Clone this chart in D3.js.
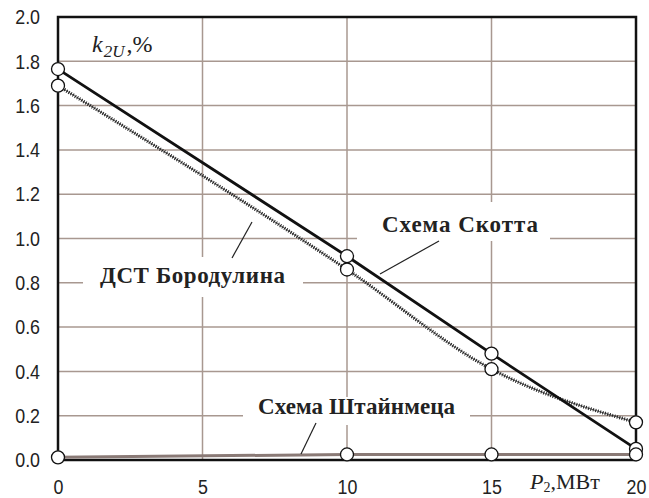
<!DOCTYPE html>
<html>
<head>
<meta charset="utf-8">
<script src="https://cdn.jsdelivr.net/npm/d3@7"></script>
<style>
  body { margin: 0; background: #fff; }
  .tick text { font-family: "Liberation Sans", Arial, sans-serif; font-size: 21px; fill: #222; }
  .lbl { font-family: "Liberation Serif", "DejaVu Serif", serif; font-weight: bold; font-size: 23px; fill: #222; }
</style>
</head>
<body>
<div id="chart"></div>
<script>
var powerMW = [0, 10, 15, 20];
var scottK = [1.765, 0.92, 0.48, 0.05];
var borodulinK = [1.69, 0.86, 0.41, 0.17];
var steinmetzK = [0.012, 0.025, 0.025, 0.025];
var xTicks = [0, 5, 10, 15, 20];
var yTicks = [0, 0.2, 0.4, 0.6, 0.8, 1.0, 1.2, 1.4, 1.6, 1.8, 2.0];

var svgWidth = 649, svgHeight = 498;
var margin = { top: 17, right: 13, bottom: 38, left: 58 };
var width = svgWidth - margin.left - margin.right;
var height = svgHeight - margin.top - margin.bottom;

var svg = d3.select("#chart").append("svg")
  .attr("width", svgWidth)
  .attr("height", svgHeight);

var g = svg.append("g")
  .attr("transform", `translate(${margin.left}, ${margin.top})`);

var x = d3.scaleLinear().domain([0, 20]).range([0, width]);
var y = d3.scaleLinear().domain([0, 2]).range([height, 0]);

// grid
g.append("g").selectAll("line").data(xTicks.slice(1, -1)).enter().append("line")
  .attr("x1", d => x(d)).attr("x2", d => x(d))
  .attr("y1", 0).attr("y2", height)
  .attr("stroke", "#a89890").attr("stroke-width", 1.5);
g.append("g").selectAll("line").data(yTicks.slice(1, -1)).enter().append("line")
  .attr("x1", 0).attr("x2", width)
  .attr("y1", d => y(d)).attr("y2", d => y(d))
  .attr("stroke", "#a89890").attr("stroke-width", 1.5);

// white boxes behind the labels
g.append("rect").attr("x", 25).attr("y", 240).attr("width", 220).attr("height", 40).attr("fill", "#fff");
g.append("rect").attr("x", 299).attr("y", 185).attr("width", 193).attr("height", 39).attr("fill", "#fff");
g.append("rect").attr("x", 185).attr("y", 380).attr("width", 227).attr("height", 28).attr("fill", "#fff");

// axes (narrowed digits like the original)
var sx = 0.85;
var xAxis = g.append("g")
  .attr("transform", `translate(0, ${height})`)
  .call(d3.axisBottom(x).tickValues(xTicks).tickSize(0).tickPadding(19).tickFormat(d3.format("d")));
xAxis.select(".domain").remove();
xAxis.selectAll(".tick text").attr("transform", `scale(${sx},1)`);

var yAxis = g.append("g")
  .call(d3.axisLeft(y).tickValues(yTicks).tickSize(0).tickPadding(18).tickFormat(d3.format(".1f")));
yAxis.select(".domain").remove();
yAxis.selectAll(".tick text")
  .attr("x", -18 / sx)
  .attr("transform", `scale(${sx},1)`);

// frame
g.append("rect").attr("x", 0).attr("y", 0).attr("width", width).attr("height", height)
  .attr("fill", "none").attr("stroke", "#111").attr("stroke-width", 2.5);

// data lines
var steinLine = d3.line().x((d, i) => x(powerMW[i])).y(d => y(d));
g.append("path").datum(steinmetzK)
  .attr("d", steinLine)
  .attr("fill", "none").attr("stroke", "#8a7a76").attr("stroke-width", 3);

var boroLine = d3.line().x((d, i) => x(powerMW[i])).y(d => y(d)).curve(d3.curveMonotoneX);
g.append("path").datum(borodulinK)
  .attr("d", boroLine)
  .attr("fill", "none").attr("stroke", "#555").attr("stroke-width", 1);
g.append("path").datum(borodulinK)
  .attr("d", boroLine)
  .attr("fill", "none").attr("stroke", "#222").attr("stroke-width", 3.5)
  .attr("stroke-dasharray", "1,1.5");

g.append("path").datum(scottK)
  .attr("d", d3.line().x((d, i) => x(powerMW[i])).y(d => y(d)))
  .attr("fill", "none").attr("stroke", "#111").attr("stroke-width", 2.8);

// markers
[scottK, borodulinK, steinmetzK].forEach(function(series) {
  g.append("g").selectAll("circle").data(series).enter().append("circle")
    .attr("cx", (d, i) => x(powerMW[i]))
    .attr("cy", d => y(d))
    .attr("r", 6.5)
    .attr("fill", "#fff").attr("stroke", "#111").attr("stroke-width", 1.3);
});

// leader lines
var leaders = [[439, 241, 380, 274], [232, 258, 252, 222], [316, 423, 301, 454]];
svg.append("g").selectAll("line").data(leaders).enter().append("line")
  .attr("x1", d => d[0]).attr("y1", d => d[1])
  .attr("x2", d => d[2]).attr("y2", d => d[3])
  .attr("stroke", "#222").attr("stroke-width", 1.2);

// labels
svg.append("text").attr("class", "lbl").attr("x", 382).attr("y", 232)
  .attr("textLength", 156).attr("lengthAdjust", "spacing").text("Схема Скотта");
svg.append("text").attr("class", "lbl").attr("x", 100).attr("y", 283)
  .attr("textLength", 185).attr("lengthAdjust", "spacing").text("ДСТ Бородулина");
svg.append("text").attr("class", "lbl").attr("x", 258).attr("y", 414)
  .attr("textLength", 197).attr("lengthAdjust", "spacing").text("Схема Штайнмеца");

// axis titles
var yt = svg.append("text").attr("x", 92).attr("y", 52)
  .style("font-family", "Liberation Serif, serif").style("font-size", "24px").attr("fill", "#222");
yt.append("tspan").style("font-style", "italic").text("k");
yt.append("tspan").style("font-style", "italic").style("font-size", "17px").attr("dy", 5).attr("dx", 1).text("2U");
yt.append("tspan").attr("dy", -5).attr("dx", 2).text(",%");

var xt = svg.append("text").attr("x", 530).attr("y", 489)
  .style("font-family", "Liberation Serif, serif").style("font-size", "22px").attr("fill", "#222");
xt.append("tspan").style("font-style", "italic").text("P");
xt.append("tspan").style("font-size", "14px").attr("dy", 3).text("2");
xt.append("tspan").attr("dy", -3).text(",МВт");
</script>
</body>
</html>
